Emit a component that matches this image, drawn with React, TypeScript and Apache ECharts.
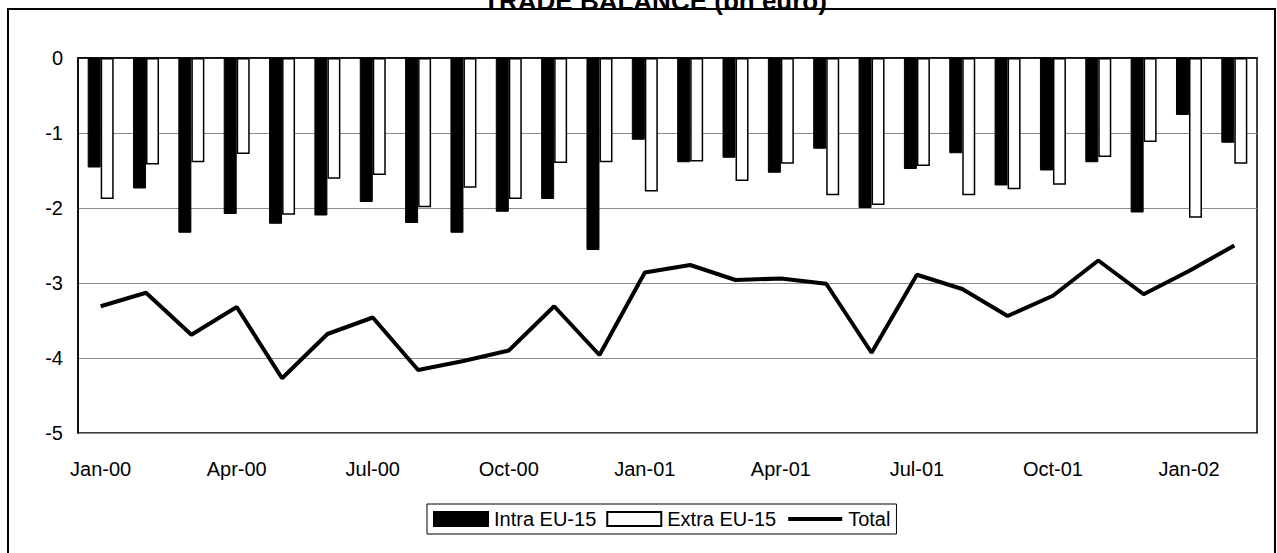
import React, { useEffect, useRef } from "react";
import * as echarts from "echarts";

const categories = [
  "Jan-00", "Feb-00", "Mar-00", "Apr-00", "May-00", "Jun-00", "Jul-00", "Aug-00", "Sep-00", "Oct-00", "Nov-00", "Dec-00",
  "Jan-01", "Feb-01", "Mar-01", "Apr-01", "May-01", "Jun-01", "Jul-01", "Aug-01", "Sep-01", "Oct-01", "Nov-01", "Dec-01",
  "Jan-02", "Feb-02",
];

const intraEU = [
  -1.46, -1.74, -2.33, -2.08, -2.21, -2.1, -1.92, -2.2, -2.33, -2.05, -1.88, -2.56,
  -1.09, -1.39, -1.33, -1.53, -1.21, -2.0, -1.48, -1.27, -1.7, -1.5, -1.39, -2.06,
  -0.76, -1.13,
];

const extraEU = [
  -1.88, -1.42, -1.39, -1.28, -2.09, -1.61, -1.56, -1.99, -1.73, -1.88, -1.4, -1.39,
  -1.78, -1.38, -1.64, -1.41, -1.83, -1.96, -1.44, -1.83, -1.75, -1.69, -1.32, -1.12,
  -2.13, -1.41,
];

const total = [
  -3.31, -3.13, -3.69, -3.32, -4.27, -3.68, -3.46, -4.16, -4.04, -3.9, -3.31, -3.96,
  -2.86, -2.76, -2.96, -2.94, -3.01, -3.93, -2.89, -3.08, -3.44, -3.17, -2.7, -3.15,
  -2.84, -2.5,
];

const seriesNames = ["Intra EU-15", "Extra EU-15", "Total"];
const titleText = "TRADE BALANCE (bn euro)";

const FONT = "'Liberation Sans', Arial, sans-serif";

export default function App() {
  const ref = useRef<HTMLDivElement>(null);

  useEffect(() => {
    if (!ref.current) return;
    const chart = echarts.init(ref.current, null, { renderer: "svg" });
    chart.setOption({
      animation: false,
      backgroundColor: "#fff",
      textStyle: { fontFamily: FONT },
      graphic: [
        {
          type: "rect",
          shape: { x: 8, y: 9, width: 1267, height: 600 },
          style: { fill: "none", stroke: "#000", lineWidth: 2 },
          z: 10,
        },
        {
          type: "text",
          x: 655,
          y: 1,
          style: {
            text: titleText,
            fontFamily: FONT,
            fontSize: 26,
            fontWeight: "bold",
            fill: "#000",
            textAlign: "center",
            textVerticalAlign: "middle",
          },
          z: 11,
        },
      ],
      grid: {
        left: 78,
        right: 20,
        top: 58,
        bottom: 120,
        show: true,
        borderColor: "#000",
        borderWidth: 1.5,
        containLabel: false,
      },
      legend: {
        data: [
          { name: seriesNames[0], icon: "rect" },
          { name: seriesNames[1], icon: "rect" },
          { name: seriesNames[2], itemStyle: { opacity: 0 }, lineStyle: { width: 4, color: "#000" } },
        ],
        left: 427,
        top: 504,
        itemWidth: 54,
        itemHeight: 14,
        itemGap: 10,
        padding: [5, 6, 5, 6],
        borderColor: "#000",
        borderWidth: 1,
        textStyle: { fontSize: 20, color: "#000", fontFamily: FONT, padding: [0, 0, 0, 1] },
      },
      xAxis: {
        type: "category",
        data: categories,
        position: "bottom",
        axisLine: { show: true, lineStyle: { color: "#000", width: 1.5 } },
        axisTick: { show: false },
        axisLabel: {
          interval: 2,
          fontSize: 20,
          color: "#000",
          margin: 26,
          fontFamily: FONT,
        },
        splitLine: { show: false },
      },
      yAxis: {
        type: "value",
        min: -5,
        max: 0,
        interval: 1,
        axisLine: { show: true, lineStyle: { color: "#000", width: 1.5 } },
        axisTick: { show: false },
        axisLabel: {
          fontSize: 20,
          color: "#000",
          margin: 15,
          fontFamily: FONT,
        },
        splitLine: { show: true, lineStyle: { color: "#8c8c8c", width: 1 } },
      },
      series: [
        {
          name: seriesNames[0],
          type: "bar",
          data: intraEU,
          barWidth: 13,
          barGap: "0%",
          itemStyle: { color: "#000", borderColor: "#000", borderWidth: 1 },
          z: 2,
        },
        {
          name: seriesNames[1],
          type: "bar",
          data: extraEU,
          barWidth: 13,
          barGap: "0%",
          itemStyle: { color: "#fff", borderColor: "#000", borderWidth: 1.5 },
          z: 2,
        },
        {
          name: seriesNames[2],
          type: "line",
          data: total,
          symbol: "none",
          showSymbol: false,
          lineStyle: { color: "#000", width: 4 },
          itemStyle: { color: "#000" },
          z: 5,
        },
      ],
    });
    return () => chart.dispose();
  }, []);

  return (
    <div
      ref={ref}
      style={{ position: "fixed", left: 0, top: 0, width: 1277, height: 553 }}
    />
  );
}
